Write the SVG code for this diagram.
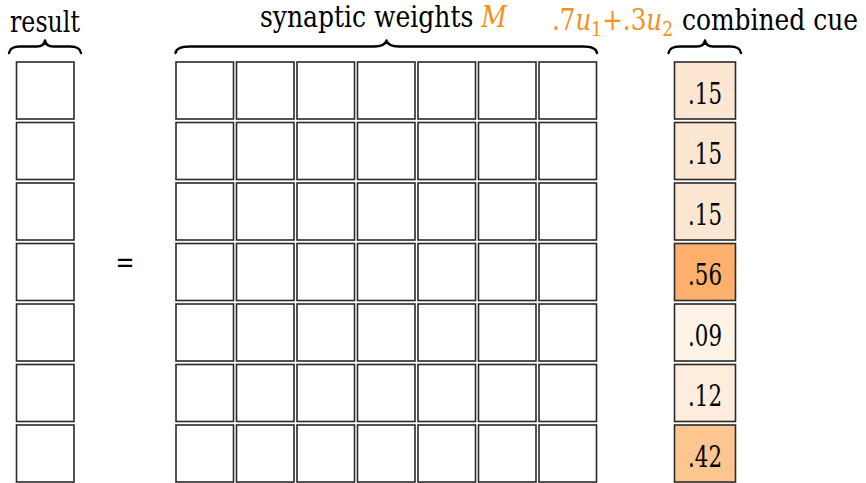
<svg xmlns="http://www.w3.org/2000/svg" width="866" height="483" viewBox="0 0 866 483">
<style>
.cell{fill:#ffffff;stroke:#2a2a2a;stroke-width:1.6}
.t{font-family:"DejaVu Serif","Liberation Serif",serif;font-size:29px;fill:#000}
.o{fill:#f7901a}
.i{font-style:italic}
.brace{fill:none;stroke:#000;stroke-width:2.4;stroke-linecap:round;stroke-linejoin:round}
</style>
<rect width="866" height="483" fill="#ffffff"/>
<g id="labels">
<text class="t" x="10" y="31.5" textLength="70" lengthAdjust="spacingAndGlyphs">result</text>
<text class="t" x="260" y="27" textLength="247" lengthAdjust="spacingAndGlyphs">synaptic weights <tspan class="o i">M</tspan></text>
<text class="t o" x="552" y="30" textLength="121" lengthAdjust="spacingAndGlyphs">.7<tspan class="i">u</tspan><tspan font-size="20" dy="6">1</tspan><tspan dy="-6">+.3</tspan><tspan class="i">u</tspan><tspan font-size="20" dy="6">2</tspan></text>
<text class="t" x="682" y="30" textLength="176" lengthAdjust="spacingAndGlyphs">combined cue</text>
<text class="t" x="115.5" y="272" textLength="19" lengthAdjust="spacingAndGlyphs">=</text>
</g>
<g id="braces">
<path class="brace" d="M9,53 Q10,46.5 20,46.5 L37,46.5 Q44,46.5 45,40.5 Q46,46.5 53,46.5 L70,46.5 Q80,46.5 81,53"/>
<path class="brace" d="M175.5,53 Q176.5,46.5 190,46.5 L374,46.5 Q385,46.5 386.5,40.5 Q388,46.5 399,46.5 L583,46.5 Q596,46.5 597,53"/>
<path class="brace" d="M668.5,53 Q669.5,46.5 680,46.5 L697,46.5 Q704,46.5 705,40.5 Q706,46.5 713,46.5 L730,46.5 Q740,46.5 741,53"/>
</g>
<g id="result">
<rect class="cell" x="16.5" y="62" width="57.5" height="57"/>
<rect class="cell" x="16.5" y="122.5" width="57.5" height="57"/>
<rect class="cell" x="16.5" y="183" width="57.5" height="57"/>
<rect class="cell" x="16.5" y="243.5" width="57.5" height="57"/>
<rect class="cell" x="16.5" y="304" width="57.5" height="57"/>
<rect class="cell" x="16.5" y="364.5" width="57.5" height="57"/>
<rect class="cell" x="16.5" y="425" width="57.5" height="57"/>
</g>
<g id="matrix">
<g id="col1">
<rect class="cell" x="176" y="62" width="57.5" height="57"/><rect class="cell" x="176" y="122.5" width="57.5" height="57"/><rect class="cell" x="176" y="183" width="57.5" height="57"/><rect class="cell" x="176" y="243.5" width="57.5" height="57"/><rect class="cell" x="176" y="304" width="57.5" height="57"/><rect class="cell" x="176" y="364.5" width="57.5" height="57"/><rect class="cell" x="176" y="425" width="57.5" height="57"/>
</g>
<g id="col2">
<rect class="cell" x="236.5" y="62" width="57.5" height="57"/><rect class="cell" x="236.5" y="122.5" width="57.5" height="57"/><rect class="cell" x="236.5" y="183" width="57.5" height="57"/><rect class="cell" x="236.5" y="243.5" width="57.5" height="57"/><rect class="cell" x="236.5" y="304" width="57.5" height="57"/><rect class="cell" x="236.5" y="364.5" width="57.5" height="57"/><rect class="cell" x="236.5" y="425" width="57.5" height="57"/>
</g>
<g id="col3">
<rect class="cell" x="297" y="62" width="57.5" height="57"/><rect class="cell" x="297" y="122.5" width="57.5" height="57"/><rect class="cell" x="297" y="183" width="57.5" height="57"/><rect class="cell" x="297" y="243.5" width="57.5" height="57"/><rect class="cell" x="297" y="304" width="57.5" height="57"/><rect class="cell" x="297" y="364.5" width="57.5" height="57"/><rect class="cell" x="297" y="425" width="57.5" height="57"/>
</g>
<g id="col4">
<rect class="cell" x="357.5" y="62" width="57.5" height="57"/><rect class="cell" x="357.5" y="122.5" width="57.5" height="57"/><rect class="cell" x="357.5" y="183" width="57.5" height="57"/><rect class="cell" x="357.5" y="243.5" width="57.5" height="57"/><rect class="cell" x="357.5" y="304" width="57.5" height="57"/><rect class="cell" x="357.5" y="364.5" width="57.5" height="57"/><rect class="cell" x="357.5" y="425" width="57.5" height="57"/>
</g>
<g id="col5">
<rect class="cell" x="418" y="62" width="57.5" height="57"/><rect class="cell" x="418" y="122.5" width="57.5" height="57"/><rect class="cell" x="418" y="183" width="57.5" height="57"/><rect class="cell" x="418" y="243.5" width="57.5" height="57"/><rect class="cell" x="418" y="304" width="57.5" height="57"/><rect class="cell" x="418" y="364.5" width="57.5" height="57"/><rect class="cell" x="418" y="425" width="57.5" height="57"/>
</g>
<g id="col6">
<rect class="cell" x="478.5" y="62" width="57.5" height="57"/><rect class="cell" x="478.5" y="122.5" width="57.5" height="57"/><rect class="cell" x="478.5" y="183" width="57.5" height="57"/><rect class="cell" x="478.5" y="243.5" width="57.5" height="57"/><rect class="cell" x="478.5" y="304" width="57.5" height="57"/><rect class="cell" x="478.5" y="364.5" width="57.5" height="57"/><rect class="cell" x="478.5" y="425" width="57.5" height="57"/>
</g>
<g id="col7">
<rect class="cell" x="539" y="62" width="57.5" height="57"/><rect class="cell" x="539" y="122.5" width="57.5" height="57"/><rect class="cell" x="539" y="183" width="57.5" height="57"/><rect class="cell" x="539" y="243.5" width="57.5" height="57"/><rect class="cell" x="539" y="304" width="57.5" height="57"/><rect class="cell" x="539" y="364.5" width="57.5" height="57"/><rect class="cell" x="539" y="425" width="57.5" height="57"/>
</g>
</g>
<g id="cue">
<g id="cue1"><rect class="cell" x="674.5" y="62" width="61" height="57" style="fill:#fee7d2"/><text class="t" x="688" y="103.5" textLength="34" lengthAdjust="spacingAndGlyphs">.15</text></g>
<g id="cue2"><rect class="cell" x="674.5" y="122.5" width="61" height="57" style="fill:#fee7d2"/><text class="t" x="688" y="164" textLength="34" lengthAdjust="spacingAndGlyphs">.15</text></g>
<g id="cue3"><rect class="cell" x="674.5" y="183" width="61" height="57" style="fill:#fee7d2"/><text class="t" x="688" y="224.5" textLength="34" lengthAdjust="spacingAndGlyphs">.15</text></g>
<g id="cue4"><rect class="cell" x="674.5" y="243.5" width="61" height="57" style="fill:#fdb06c"/><text class="t" x="688" y="285" textLength="34" lengthAdjust="spacingAndGlyphs">.56</text></g>
<g id="cue5"><rect class="cell" x="674.5" y="304" width="61" height="57" style="fill:#fff3e7"/><text class="t" x="688" y="345.5" textLength="34" lengthAdjust="spacingAndGlyphs">.09</text></g>
<g id="cue6"><rect class="cell" x="674.5" y="364.5" width="61" height="57" style="fill:#feeddd"/><text class="t" x="688" y="406" textLength="34" lengthAdjust="spacingAndGlyphs">.12</text></g>
<g id="cue7"><rect class="cell" x="674.5" y="425" width="61" height="57" style="fill:#fdc590"/><text class="t" x="688" y="466.5" textLength="34" lengthAdjust="spacingAndGlyphs">.42</text></g>
</g>
</svg>
